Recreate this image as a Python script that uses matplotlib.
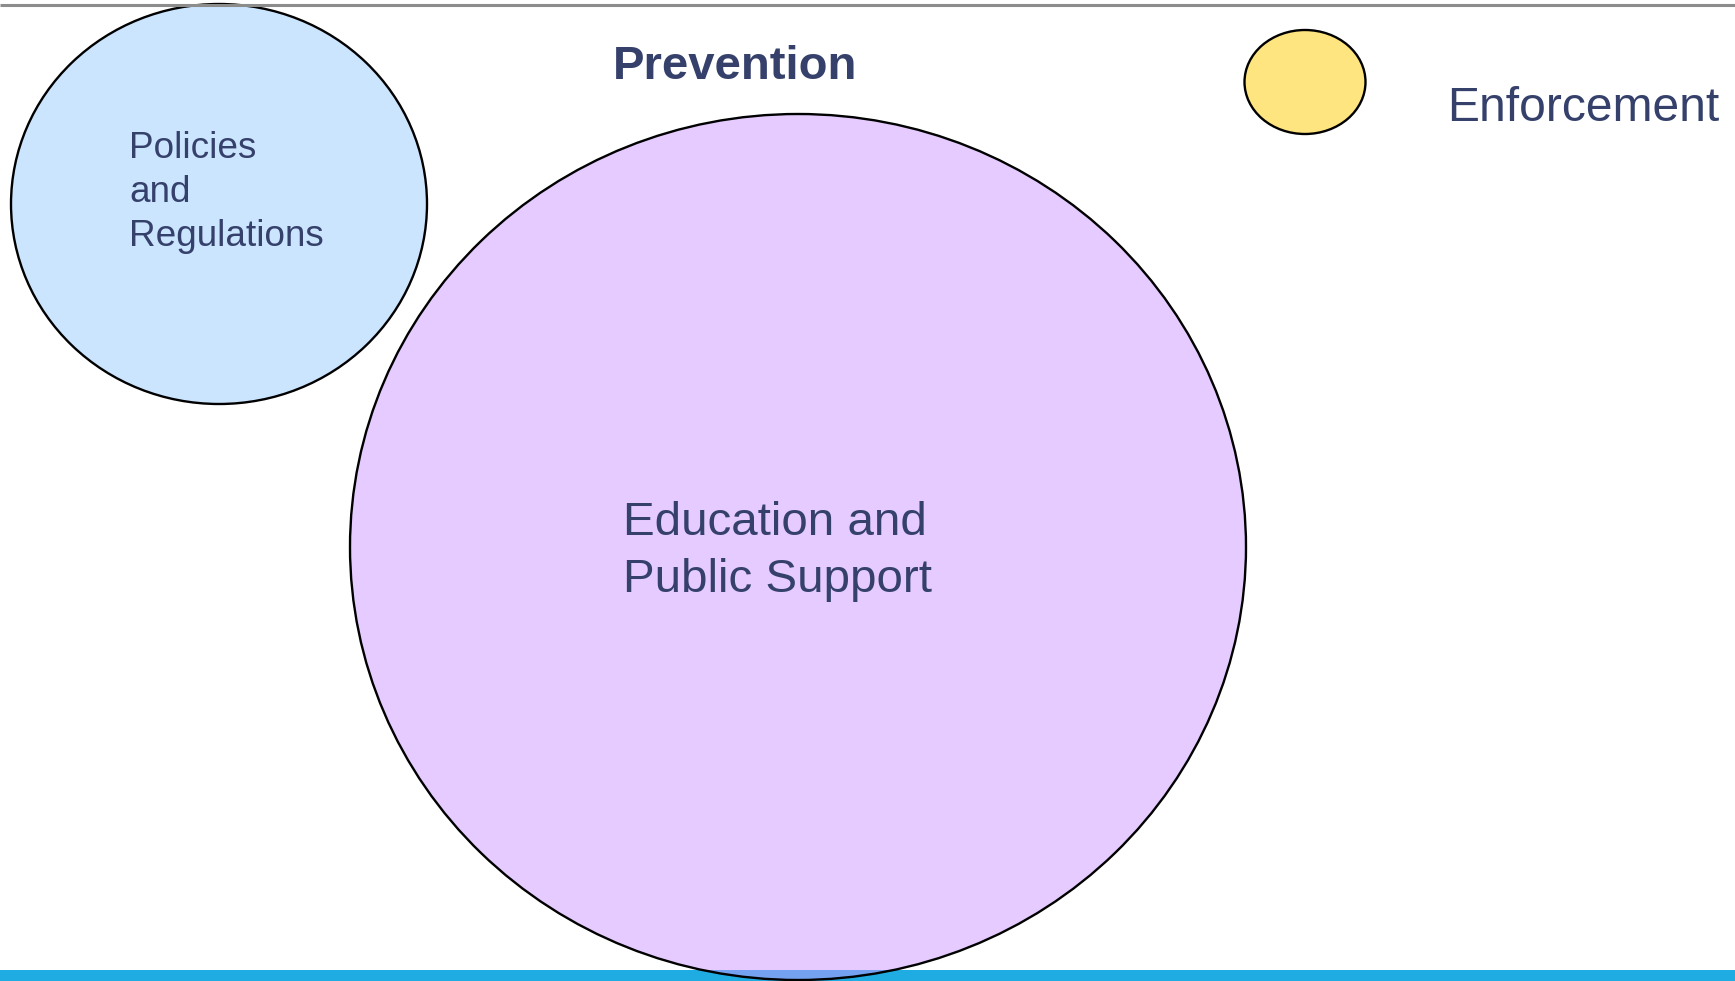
import matplotlib
matplotlib.use("Agg")
import matplotlib.pyplot as plt
from matplotlib.patches import Ellipse, Rectangle

plt.rcParams['font.family'] = ['Liberation Sans', 'DejaVu Sans']

# Data: bubbles (label, centre x, centre y, width, height) in canvas units
labels = ["Policies\nand\nRegulations", "Education and\nPublic Support", "Enforcement"]
cx = [219, 798, 1305]
cy = [204, 547, 82]
widths = [416, 896, 121]
heights = [400, 866, 104]
fills = ["#99CCFF", "#CC99FF", "#FFCC00"]
title = "Prevention"

W, H = 1735, 981
fig = plt.figure(figsize=(W / 100, H / 100), dpi=100)
ax = fig.add_axes([0, 0, 1, 1])
ax.set_xlim(0, W)
ax.set_ylim(H, 0)
ax.axis('off')

txt = '#35406B'

# bottom band and top rule
ax.add_patch(Rectangle((0, 970), W, 11, facecolor='#1EACE2', edgecolor='none', zorder=1))
ax.plot([0, W], [5, 5], color='#8C8C8C', lw=2.2, zorder=5, solid_capstyle='butt')

for x, y, w, h, c in zip(cx, cy, widths, heights, fills):
    e = Ellipse((x, y), w, h, facecolor=matplotlib.colors.to_rgba(c, 0.5),
                edgecolor='black', lw=1.7, zorder=2)
    ax.add_patch(e)

# label placement
label_pos = [(129, 158, 44, 26.6), (623, 535, 57, 34.2), (1447, 121, 0, 34.6)]
for lab, (lx, ly, sp, fs) in zip(labels, label_pos):
    for i, line in enumerate(lab.split("\n")):
        ax.text(lx, ly + i * sp, line, fontsize=fs, color=txt, ha='left',
                va='baseline', zorder=4)

ax.text(735, 79, title, fontsize=34, fontweight='bold', color=txt,
        ha='center', va='baseline', zorder=4)

fig.savefig("out.png", dpi=100)
